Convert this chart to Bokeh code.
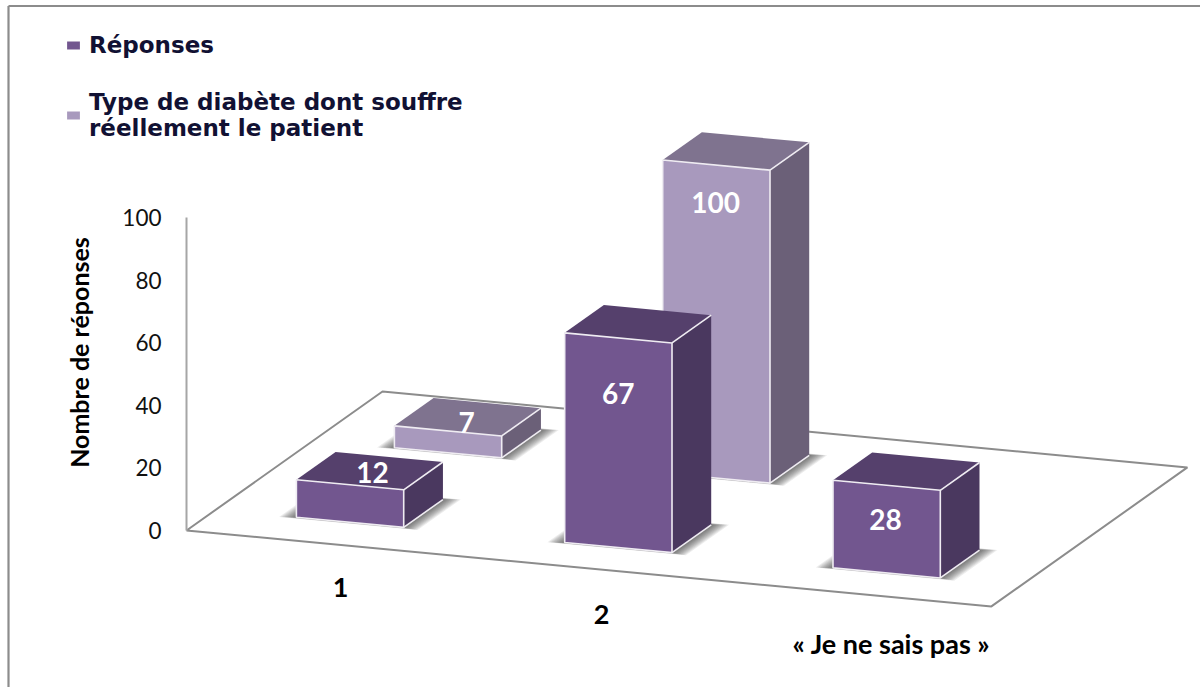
from math import pi
from bokeh.plotting import figure
from bokeh.models import Range1d, Legend, LegendItem, FixedTicker
from bokeh.core.properties import value
from bokeh.embed import file_html
from bokeh.resources import INLINE

# ---- data ----
categories = ["1", "2", "« Je ne sais pas »"]
series_names = ["Réponses", "Type de diabète dont souffre\nréellement le patient"]
reponses = [12, 67, 28]
type_reel = [7, 100, None]
y_ticks = [0, 20, 40, 60, 80, 100]
y_title = "Nombre de réponses"

# ---- style / projection ----
FRONT = ["#72568F", "#A899BD"]
TOP = ["#55406C", "#7F738F"]
SIDE = ["#4A385F", "#6B6078"]
GREY = "#8C8C8C"
EDGE = "#EFECF2"
PX_PER_UNIT = 3.13          # vertical screen pixels per value unit
ORIGIN_X, ORIGIN_Y = 186, 530
CAT_DX, CAT_DY = 268.3, 25.3    # floor step of one category
DEP_DX, DEP_DY = 98.0, 69.5     # floor step of one series (going back)
GAP = 0.3                   # bar inset in a floor cell
W, H = 1200, 687


def proj(u, v, h=0.0):
    """oblique projection: category u, series v, value h -> x pixel, y in value units"""
    return (ORIGIN_X + u * CAT_DX + v * DEP_DX,
            h + (v * DEP_DY - u * CAT_DY) / PX_PER_UNIT)


def poly(pts):
    P = [proj(*q) for q in pts]
    return [a for a, _ in P], [b for _, b in P]


def py(pixel_y):
    return (ORIGIN_Y - pixel_y) / PX_PER_UNIT


p = figure(width=W, height=H, output_backend="svg", toolbar_location=None,
           x_range=Range1d(0, W), y_range=Range1d(py(H), py(0)),
           min_border_left=0, min_border_right=0, min_border_top=0, min_border_bottom=0,
           x_axis_location=None, y_axis_location="left",
           margin=(0, 0, 0, 0), background_fill_color="white", border_fill_color="white")
p.outline_line_color = None
p.grid.visible = False

# y axis, standing on the floor corner inside the frame
ax = p.yaxis[0]
ax.fixed_location = ORIGIN_X
ax.bounds = (0, 100)
ax.ticker = FixedTicker(ticks=y_ticks)
ax.major_tick_line_color = None
ax.minor_tick_line_color = None
ax.axis_line_color = "#A6A6A6"
ax.axis_line_width = 2
ax.major_label_standoff = 19
ax.major_label_text_font = "Lato"
ax.major_label_text_font_size = "22.5px"
ax.major_label_text_color = "#111111"

# axis title sits higher than the middle of the axis, so it is placed on its own
p.text([78], [py(352)], [y_title], angle=pi / 2, text_font=value("Lato"), text_font_style="bold",
       text_font_size="25px", text_color="#000000", text_align="center", text_baseline="middle")

# outer frame of the picture
p.line([8, 8], [py(H), py(5.5)], line_color=GREY, line_width=2.2)
p.line([8, W], [py(5.5), py(5.5)], line_color=GREY, line_width=2)

# floor
fx, fy = poly([(0, 0), (len(categories), 0), (len(categories), 2), (0, 2), (0, 0)])
p.line(fx, fy, line_color=GREY, line_width=2)

legend_items = []
for row, vals in [(1, type_reel), (0, reponses)]:
    shadows_x, shadows_y = [], []
    front, top, side, edges = ([], []), ([], []), ([], []), ([], [])
    for c, val in enumerate(vals):
        if val is None:
            continue
        u0, u1 = c + GAP, c + 1 - GAP
        v0, v1 = row + GAP, row + 1 - GAP
        for k in range(1, 11):
            e = k * 0.0058
            sx, sy = poly([(u0 - e, v0 - e * 0.3), (u1 + e, v0 - e * 0.3), (u1 + e, v1 + e * 0.4), (u0 - e, v1 + e * 0.4)])
            shadows_x.append(sx)
            shadows_y.append(sy)
        for store, pts in [
            (front, [(u0, v0, 0), (u1, v0, 0), (u1, v0, val), (u0, v0, val)]),
            (top, [(u0, v0, val), (u1, v0, val), (u1, v1, val), (u0, v1, val)]),
            (side, [(u1, v0, 0), (u1, v1, 0), (u1, v1, val), (u1, v0, val)]),
        ]:
            a, b = poly(pts)
            store[0].append(a)
            store[1].append(b)
        for pts in [
            [(u0, v0, val), (u0, v0, 0), (u1, v0, 0), (u1, v0, val), (u0, v0, val)],
            [(u1, v0, val), (u1, v1, val)],
            [(u1, v0, 0), (u1, v1, 0)],
        ]:
            a, b = poly(pts)
            edges[0].append(a)
            edges[1].append(b)
    p.patches(shadows_x, shadows_y, fill_color="#303030", fill_alpha=0.09, line_color=None)
    p.patches(top[0], top[1], fill_color=TOP[row], line_color=None)
    p.patches(side[0], side[1], fill_color=SIDE[row], line_color=None)
    r = p.patches(front[0], front[1], fill_color=FRONT[row], line_color=None)
    p.multi_line(edges[0], edges[1], line_color=EDGE, line_width=1.6)
    legend_items.insert(0, LegendItem(label=series_names[row], renderers=[r]))

# value labels: (u, v, height at which the label sits, value shown)
label_spots = [(0.584, 0.3, 16.6, reponses[0]), (1.5, 0.3, 49.2, reponses[1]), (2.496, 0.3, 17, reponses[2]),
               (0.569, 1.3, 10.2, type_reel[0]), (1.497, 1.3, 88, type_reel[1])]
lx, ly, lt = [], [], []
for u, v, h, val in label_spots:
    a, b = proj(u, v, h)
    lx.append(a)
    ly.append(b)
    lt.append(str(val))
p.text(lx, ly, lt, text_font=value("Lato"), text_font_style="bold", text_font_size="28px",
       text_color="white", text_align="center", text_baseline="middle")

# category labels
cx = [340, 601, 891]
cy = [py(q) for q in (587, 614, 643)]
p.text(cx, cy, categories, text_font=value("Lato"), text_font_style="bold", text_font_size="27px",
       text_color="#000000", text_align="center", text_baseline="middle")

legend = Legend(items=legend_items, location=(65, H - 141), padding=0, margin=0,
                glyph_width=16, glyph_height=10, label_standoff=8, spacing=31,
                border_line_color=None, background_fill_alpha=0,
                label_text_font="DejaVu Sans", label_text_font_style="bold",
                label_text_font_size="23px", label_text_color="#111133")
p.add_layout(legend, "center")

open("out.html", "w").write(file_html(p, INLINE))
